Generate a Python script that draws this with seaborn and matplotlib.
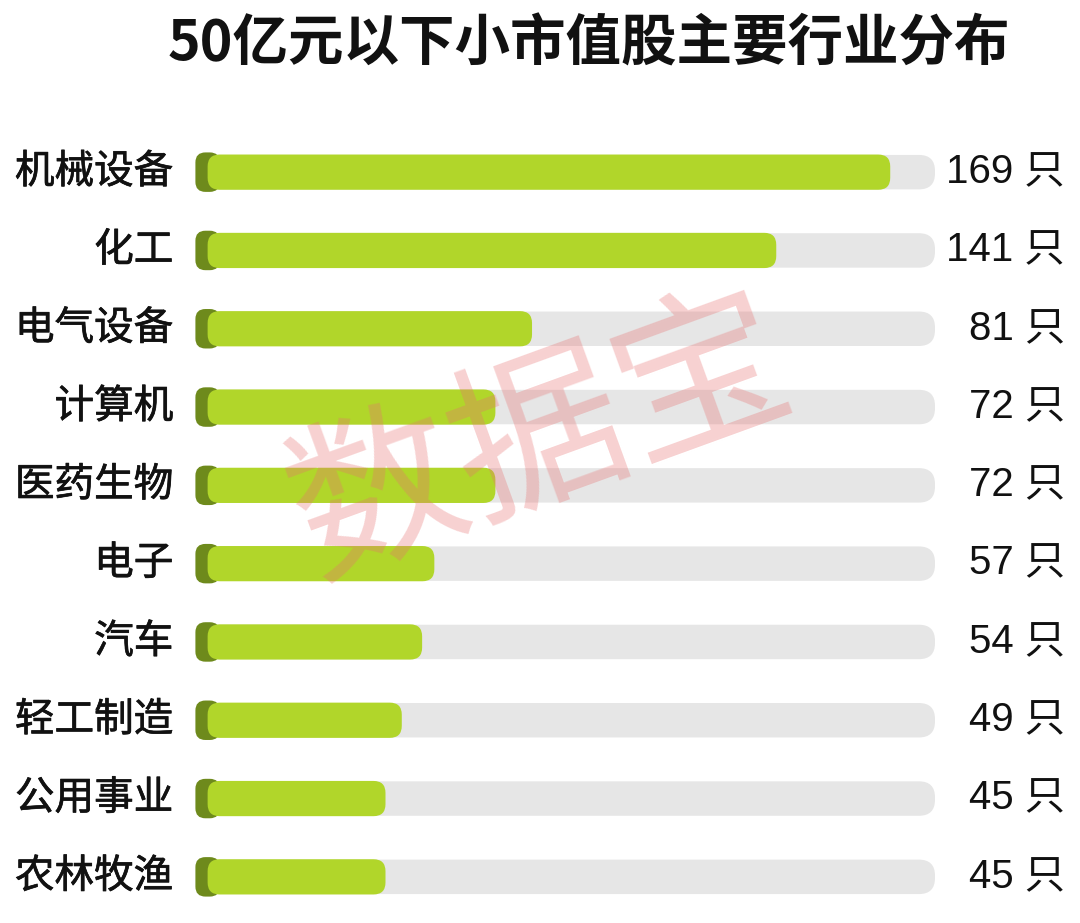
import matplotlib
matplotlib.use("Agg")
import matplotlib.pyplot as plt
import matplotlib.transforms as mtrans
import matplotlib.patheffects as pe
import seaborn as sns
import pandas as pd
from matplotlib.patches import FancyBboxPatch

categories = ["机械设备", "化工", "电气设备", "计算机", "医药生物", "电子", "汽车", "轻工制造", "公用事业", "农林牧渔"]
values = [169, 141, 81, 72, 72, 57, 54, 49, 45, 45]
value_labels = [f"{v} 只" for v in values]
title = "50亿元以下小市值股主要行业分布"
track_max = 180

sns.set_theme(style="white")
plt.rcParams['font.family'] = ['Noto Sans CJK SC', 'DejaVu Sans']

W, H = 1080, 923
fig = plt.figure(figsize=(W / 100, H / 100), dpi=100)
fig.patch.set_facecolor("white")

ax_left_px, ax_right_px = 195, 935
ax_top_px, ax_bot_px = 133, 916
ax = fig.add_axes([ax_left_px / W, 1 - ax_bot_px / H, (ax_right_px - ax_left_px) / W, (ax_bot_px - ax_top_px) / H])

df = pd.DataFrame({"cat": categories, "val": values, "track": [track_max] * len(values)})

sns.barplot(data=df, y="cat", x="track", color="#e6e6e6", width=0.44, ax=ax, orient="h", saturation=1)
n_track = len(ax.patches)
sns.barplot(data=df, y="cat", x="val", color="#b1d62a", width=0.45, ax=ax, orient="h", saturation=1)

xmin = -1.8
ax.set_xlim(xmin, track_max)
ax.set_ylim(len(categories) - 0.5, -0.5)

px_per_x = (ax_right_px - ax_left_px) / (track_max - xmin)
px_per_y = (ax_bot_px - ax_top_px) / len(categories)
aspect = px_per_x / px_per_y

patches = list(ax.patches)
for i, p in enumerate(patches):
    x, y, w, h = p.get_x(), p.get_y(), p.get_width(), p.get_height()
    fc = p.get_facecolor()
    p.remove()
    if i < n_track:
        rr = 16 / px_per_x
        box = FancyBboxPatch((x, y), w, h, boxstyle=f"round,pad=0,rounding_size={rr}",
                             mutation_aspect=aspect, facecolor=fc, edgecolor="none", zorder=1)
        ax.add_patch(box)
    else:
        # dark olive cap at the start of each bar
        ch = h * 1.12
        cap = FancyBboxPatch((xmin + 0.1, y + h / 2 - ch / 2), 6, ch,
                             boxstyle=f"round,pad=0,rounding_size={10 / px_per_x}",
                             mutation_aspect=aspect, facecolor="#6e8a1c", edgecolor="none", zorder=2)
        ax.add_patch(cap)
        rr = 12 / px_per_x
        box = FancyBboxPatch((x + 1.3, y), w - 1.3, h, boxstyle=f"round,pad=0,rounding_size={rr}",
                             mutation_aspect=aspect, facecolor=fc, edgecolor="none", zorder=3)
        ax.add_patch(box)

ax.set_xlabel("")
ax.set_ylabel("")
ax.set_xticks([])
ax.set_yticks([])
for s in ax.spines.values():
    s.set_visible(False)
ax.set_facecolor("none")

right_tr = mtrans.blended_transform_factory(fig.transFigure, ax.transData)
stroke = [pe.withStroke(linewidth=0.5, foreground="#111111")]
for i, cat in enumerate(categories):
    ax.text(xmin - 5.3, i, cat, ha="right", va="center", fontsize=28.5, color="#111111",
            path_effects=stroke)
    ax.text(1065 / W, i, value_labels[i], transform=right_tr, ha="right", va="center",
            fontsize=29, color="#111111", family=["Liberation Sans", "Noto Sans CJK SC"])

fig.text(0.545, 1 - 45 / H, title, ha="center", va="center", fontsize=40, fontweight="black", color="#111111")

fig.text(540 / W, 1 - 440 / H, "数据宝", ha="center", va="center", fontsize=124, rotation=20,
         color="#e87070", alpha=0.32, zorder=10)

fig.savefig("out.png", dpi=100, facecolor="white")
